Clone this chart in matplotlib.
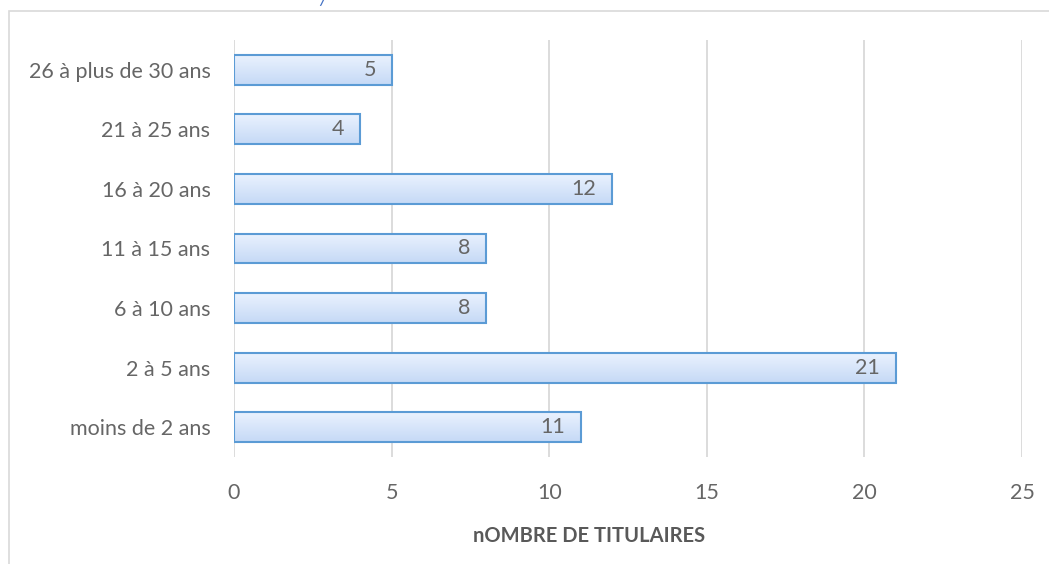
import matplotlib
matplotlib.use("Agg")
import matplotlib.pyplot as plt
import numpy as np
from matplotlib.patches import Rectangle
from matplotlib.colors import LinearSegmentedColormap

categories = ["moins de 2 ans", "2 à 5 ans", "6 à 10 ans", "11 à 15 ans",
              "16 à 20 ans", "21 à 25 ans", "26 à plus de 30 ans"]
values = [11, 21, 8, 8, 12, 4, 5]
xticks = [0, 5, 10, 15, 20, 25]
xlabel = "nOMBRE DE TITULAIRES"

plt.rcParams['font.family'] = ['Lato', 'DejaVu Sans']
W, H = 1049, 564
fig = plt.figure(figsize=(W/100, H/100), dpi=100)
ax = fig.add_axes([234/W, (H-457)/H, (1022-234)/W, (457-40)/H])

# outer chart border
fig.patches.append(Rectangle((8.5/W, -0.01), 1.02, (H-10.5)/H + 0.01, transform=fig.transFigure,
                             fill=False, edgecolor='#d9d9d9', linewidth=1.2, zorder=0))

FS = 15.5
ax.set_xlim(0, 25)
ax.set_ylim(-0.5, len(categories) - 0.5)
ax.set_xticks(xticks)
ax.set_yticks(range(len(categories)))
ax.set_yticklabels(categories)
for s in ax.spines.values():
    s.set_visible(False)
ax.grid(axis='x', color='#d9d9d9', linewidth=1.3)
ax.set_axisbelow(True)
ax.tick_params(axis='both', length=0, colors='#666666', labelsize=FS)
ax.tick_params(axis='y', pad=17)
ax.tick_params(axis='x', pad=19)

grad = np.linspace(0, 1, 256).reshape(-1, 1)
cmap = LinearSegmentedColormap.from_list('g', ['#c5d9f6', '#eaf2fe'])
bh = 0.5
for i, v in enumerate(values):
    im = ax.imshow(grad, extent=[0, v, i - bh/2, i + bh/2], origin='lower',
                   cmap=cmap, aspect='auto', zorder=2)
    r = Rectangle((0, i - bh/2), v, bh, facecolor='none', edgecolor='#5b9bd5',
                  linewidth=1.5, zorder=3)
    ax.add_patch(r)
    im.set_clip_path(r)
    ax.text(v - 0.5, i, str(v), ha='right', va='center', color='#666666',
            fontsize=FS, zorder=4)
ax.set_xlim(0, 25)
ax.set_ylim(-0.5, len(categories) - 0.5)

fig.text(589/W, 1 - 536/H, xlabel, color='#595959', fontsize=14.5, fontweight='bold',
         ha='center', va='center')

fig.text(323/W, 1.0, '/', color='#4472c4', style='italic', fontsize=14, ha='center', va='center')

fig.savefig('out.png', dpi=100)
